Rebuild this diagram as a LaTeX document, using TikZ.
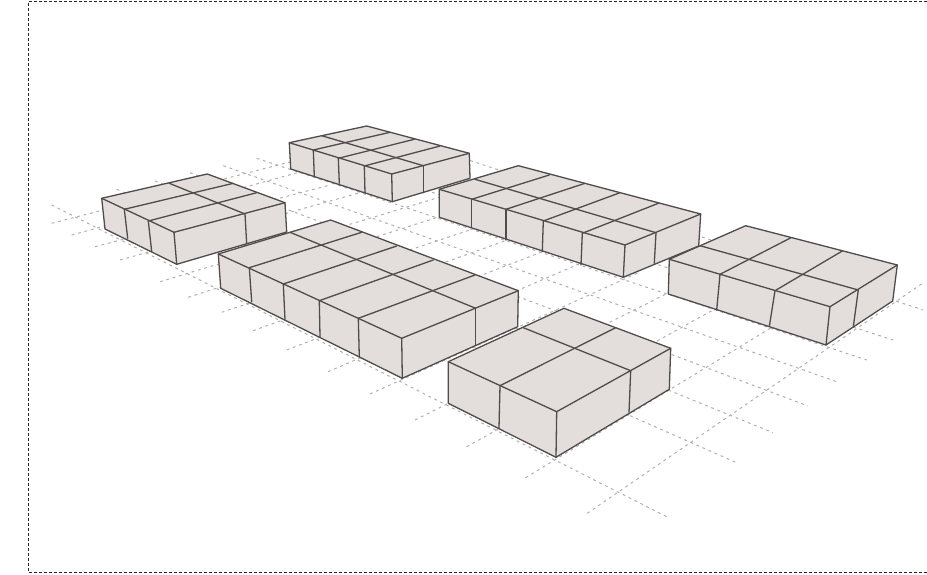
\documentclass[tikz,border=0pt]{standalone}
\usepackage{xcolor}
\definecolor{blockfill}{RGB}{227, 221, 220}
\definecolor{blockedge}{RGB}{80, 76, 76}
\definecolor{gridgray}{RGB}{175, 175, 175}
\tikzset{
  blockface/.style={fill=blockfill, draw=blockedge, line width=1.3pt, line join=round},
  blockline/.style={draw=blockedge, line width=1.3pt, line cap=round},
  gridline/.style={gridgray, line width=1pt, dash pattern=on 2.8pt off 3.8pt},
  framerule/.style={black!85, line width=1pt, dash pattern=on 3pt off 2pt}
}
% corners: top left, top back, top right, top front, bottom left, bottom front, bottom right
\newcommand{\blockbody}[7]{
  \filldraw[blockface] #1 -- #2 -- #3 -- #7 -- #6 -- #5 -- cycle;
  \draw[blockline] #1 -- #4 -- #3;
  \draw[blockline] #4 -- #6;
}

\begin{document}
\begin{tikzpicture}[x=1pt, y=-1pt]
  \useasboundingbox (0,0) rectangle (927,575);
  % --- Frame ---
  \draw[framerule] (927,2) -- (28,2) -- (28,572) -- (927,572);

  % --- Ground grid ---
  % running down to the right
  \foreach \xa/\ya/\xb/\yb in {51.7/205/666.7/516.7, 116.7/189.3/736.7/462.7, 155/181/773/432.7,
      190/172.7/808/406, 223.3/165.7/836.7/381.7, 256.7/158.3/866.7/360,
      300/150/893.3/340, 420/144/923/310}
    \draw[gridline] (\xa,\ya) -- (\xb,\yb);
  % running up to the right
  \foreach \xa/\ya/\xb/\yb in {51.7/223.3/290/162, 71.7/235/300/172, 95/246.7/330/185,
      120/260/380/187, 160/281.7/460/191, 188.3/297.3/460/210, 221.7/312.3/500/220,
      253/330.7/530/232, 286.7/350/560/245, 328/371.7/600/255, 370/394/640/272,
      415/420/690/282, 466.7/446.7/740/295, 525.7/477.7/800/310, 587.3/513.3/923/283}
    \draw[gridline] (\xa,\ya) -- (\xb,\yb);

  % --- Back row ---
  % Block behind the others
  \blockbody{(289.3,142.7)}{(366.7,126)}{(469.3,153.3)}{(391.7,174)}{(290.7,169)}{(392.3,201.7)}{(470,178.3)}
  \foreach \xa/\ya/\xb/\yb in {313.3/150/390/132.3, 338.3/158.3/414.3/139.3, 364.3/166/440/146,
      321.7/135.7/423.3/165.7, 313.3/150/314.3/176, 338.3/158.3/339.3/183.3,
      364.3/166/365/192.7, 423.3/165.7/423.3/192.7}
    \draw[blockline] (\xa,\ya) -- (\xb,\yb);

  % Long block
  \blockbody{(439.3,189.3)}{(518.3,165.7)}{(700.7,214)}{(625,245)}{(439.3,217.3)}{(623.3,277.3)}{(698.7,246)}
  \foreach \xa/\ya/\xb/\yb in {471.7/199.3/549.3/175, 506/209.3/585/183.3, 543.3/221/620/192.7,
      582.3/233.3/658.3/203.3, 475/179.3/656/232.7, 471.7/199.3/471.7/227.3,
      506/209.3/506/240, 543.3/221/542.3/251.7, 582.3/233.3/581/265, 656/232.7/654.3/263.3}
    \draw[blockline] (\xa,\ya) -- (\xb,\yb);

  % Right block
  \blockbody{(669.3,259.3)}{(745.7,225.7)}{(897.3,265)}{(830,306.7)}{(668.3,294)}{(826,345)}{(892.7,301)}
  \foreach \xa/\ya/\xb/\yb in {720/274.3/791/237.7, 775/290.7/842.3/251, 700/245.7/858.3/290,
      720/274.3/716.7/310, 775/290.7/769.3/326.7, 858.3/290/853.3/326.7}
    \draw[blockline] (\xa,\ya) -- (\xb,\yb);

  % --- Front row ---
  % Left block
  \blockbody{(101.7,198.3)}{(207.3,174)}{(285,202.7)}{(174,232.3)}{(105,229)}{(176.7,264.3)}{(286.7,232)}
  \foreach \xa/\ya/\xb/\yb in {124.3/209.3/233.3/183.3, 148.3/221/256.7/192.7, 169.3/183.3/245/214,
      124.3/209.3/127.7/238.3, 148.3/221/151.7/251.7, 245/214/246.7/244}
    \draw[blockline] (\xa,\ya) -- (\xb,\yb);

  % Large block
  \blockbody{(218.3,254)}{(330.7,220)}{(518.3,290.7)}{(401.7,338.3)}{(220.7,288.3)}{(402.3,378.3)}{(517.7,326.7)}
  \foreach \xa/\ya/\xb/\yb in {249.3/267.7/361.7/232.3, 283.3/284/396.7/246, 319.3/300.7/433.3/260,
      358.3/318.3/475/275, 290/232.3/475.7/308.3, 249.3/267.7/251.7/301.7, 283.3/284/285/319.3,
      319.3/300.7/320/336.7, 358.3/318.3/359.3/356.7, 475.7/308.3/475.7/345}
    \draw[blockline] (\xa,\ya) -- (\xb,\yb);

  % Square block
  \blockbody{(448.3,361.7)}{(564,308.3)}{(670.7,348.3)}{(556.7,411.7)}{(448.3,403.3)}{(556,457.3)}{(669.3,389.3)}
  \foreach \xa/\ya/\xb/\yb in {500/385.7/615.7/327.7, 523.3/327.7/630.7/370.7,
      500/385.7/499/428.3, 630.7/370.7/629/412.3}
    \draw[blockline] (\xa,\ya) -- (\xb,\yb);
\end{tikzpicture}
\end{document}
